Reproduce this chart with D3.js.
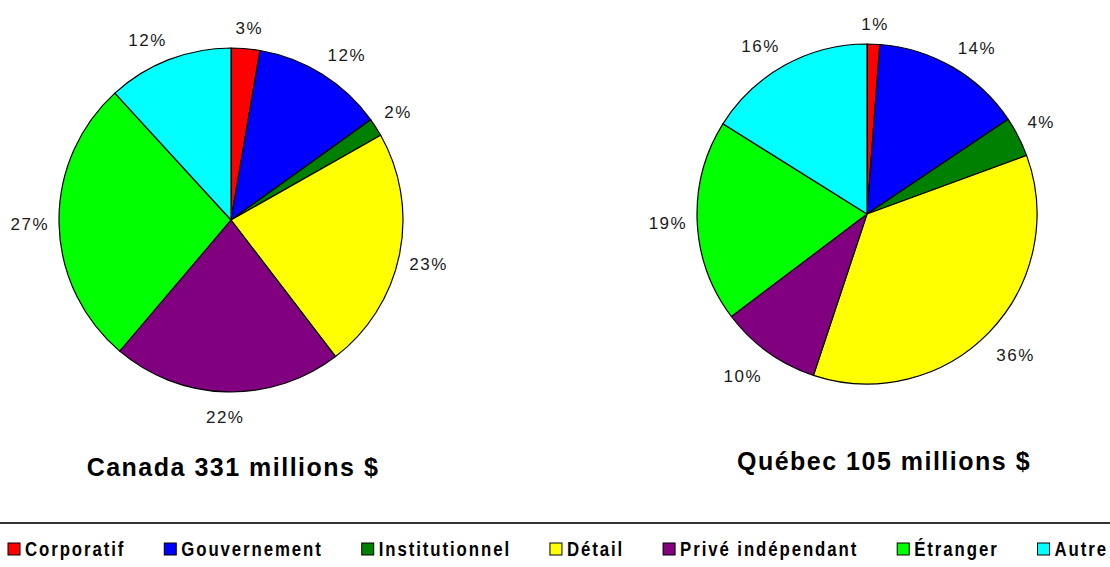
<!DOCTYPE html>
<html>
<head>
<meta charset="utf-8">
<script src="https://cdn.jsdelivr.net/npm/d3@7"></script>
<style>
    body { margin: 0; background: #fff; }
    svg { display: block; }
</style>
</head>
<body>
<div id="mainDiv"></div>
<script>
// categories + colors (Excel default palette)
var categories = ["Corporatif", "Gouvernement", "Institutionnel", "Détail", "Privé indépendant", "Étranger", "Autre"];
var colors = ["#ff0000", "#0000ff", "#008000", "#ffff00", "#800080", "#00ff00", "#00ffff"];

// parts in % (labels are rounded)
var canadaValues = [2.7, 12.4, 1.7, 22.8, 21.6, 27.0, 11.8];
var quebecValues = [1.2, 14.4, 3.8, 35.7, 9.6, 19.2, 16.1];

var canadaTitle = "Canada 331 millions $";
var quebecTitle = "Québec 105 millions $";

var chart = (function () {

    var self = {};
    var width = 1110, height = 567;

    var svg = d3.select("#mainDiv").append("svg")
        .attr("width", width)
        .attr("height", height);

    svg.append("rect").attr("width", width).attr("height", height).attr("fill", "#fff");

    var clamp = function (v) {
        return Math.max(-1, Math.min(1, v));
    }

    self.drawPie = function (values, title, cx, cy, radius, titleX, titleY) {
        var pie = d3.pie().sort(null).value(function (d) {
            return d;
        });
        var arcs = pie(values);
        var arc = d3.arc().innerRadius(0).outerRadius(radius);
        var labelR = radius + 10;

        var g = svg.append("g").attr("transform", "translate(" + cx + "," + cy + ")");

        g.selectAll("path.slice").data(arcs).enter()
            .append("path")
            .attr("class", "slice")
            .attr("d", arc)
            .attr("fill", function (d, i) {
                return colors[i];
            })
            .attr("stroke", "#000")
            .attr("stroke-width", 1.2)
            .attr("stroke-linejoin", "round");

        var labels = g.selectAll("text.pct").data(arcs).enter()
            .append("text")
            .attr("class", "pct")
            .attr("text-anchor", "middle")
            .attr("dominant-baseline", "central")
            .style("font-family", "Liberation Sans, Arial, sans-serif")
            .style("font-size", "17px")
            .style("letter-spacing", "1.5px")
            .style("fill", "#1a1a1a")
            .text(function (d) {
                return Math.round(d.data) + "%";
            });

        // label box sits just outside the pie, like excel does
        labels.each(function (d) {
            var a = (d.startAngle + d.endAngle) / 2;
            var w = this.getComputedTextLength();
            var c = Math.cos(a);
            var x = Math.sin(a) * labelR + w / 2 * clamp(Math.sin(a) * 2.5);
            var y = -c * labelR - (c > 0 ? 10 : 16) * clamp(c * 2.5);
            d3.select(this).attr("x", x).attr("y", y);
        })

        svg.append("text")
            .attr("x", titleX)
            .attr("y", titleY)
            .attr("text-anchor", "middle")
            .attr("dominant-baseline", "central")
            .style("font-family", "Liberation Sans, Arial, sans-serif")
            .style("font-weight", "bold")
            .style("font-size", "25px")
            .style("letter-spacing", "1.5px")
            .style("fill", "#000")
            .text(title);
    }

    self.drawLegend = function () {
        var y = 549;
        var left = 8, right = 1108;
        var box = 12, gapBox = 5, squeeze = 0.8;

        svg.append("line")
            .attr("x1", 0).attr("x2", width)
            .attr("y1", 523).attr("y2", 523)
            .attr("stroke", "#333")
            .attr("stroke-width", 2);

        var items = svg.selectAll("g.legendItem").data(categories).enter()
            .append("g").attr("class", "legendItem");

        items.append("rect")
            .attr("width", box).attr("height", box)
            .attr("y", y - box / 2)
            .attr("fill", function (d, i) {
                return colors[i];
            })
            .attr("stroke", "#000")
            .attr("stroke-width", 1);

        items.append("text")
            .attr("dominant-baseline", "central")
            .style("font-family", "Liberation Sans Narrow, Arial Narrow, Liberation Sans, sans-serif")
            .style("font-weight", "bold")
            .style("font-size", "21px")
            .style("letter-spacing", "2.4px")
            .style("fill", "#000")
            .text(function (d) {
                return d;
            });

        // spread items over the full width
        var widths = [];
        items.select("text").each(function () {
            widths.push(this.getComputedTextLength() * squeeze);
        })
        var total = d3.sum(widths) + categories.length * (box + gapBox);
        var gap = (right - left - total) / (categories.length - 1);
        var x = left;
        items.each(function (d, i) {
            var item = d3.select(this);
            item.select("rect").attr("x", x);
            item.select("text").attr("transform", "translate(" + (x + box + gapBox) + "," + y + ") scale(" + squeeze + ",1)");
            x += box + gapBox + widths[i] + gap;
        })
    }

    self.drawPie(canadaValues, canadaTitle, 231, 220, 172, 233, 467);
    self.drawPie(quebecValues, quebecTitle, 867, 214, 170, 884, 461);
    self.drawLegend();

    return self;
})()
</script>
</body>
</html>
